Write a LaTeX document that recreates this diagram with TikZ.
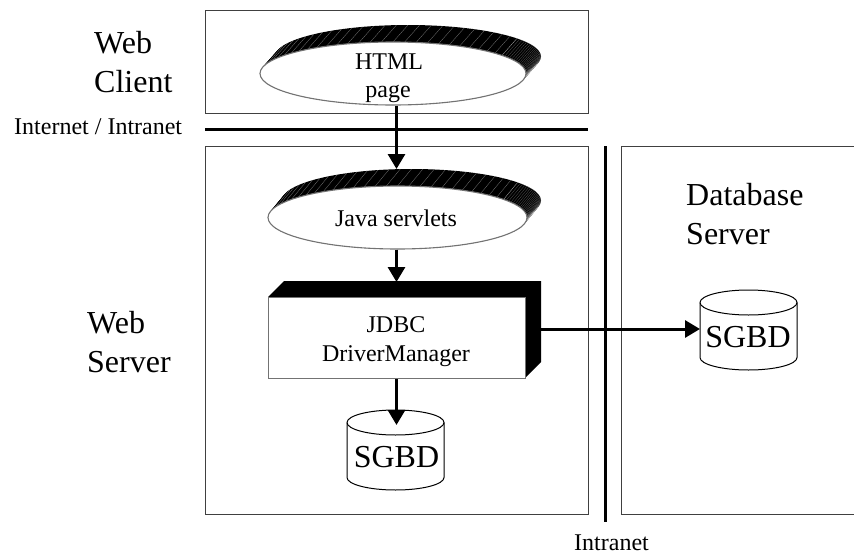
\documentclass[tikz,border=0pt]{standalone}
\usepackage{fontspec}
\setmainfont{Liberation Serif}
\usetikzlibrary{shapes.geometric,arrows.meta}
\tikzset{
  x=1pt,y=-1pt,
  panel/.style={draw=black!75,line width=1.3pt,fill=white,anchor=north west,inner sep=0pt},
  heavy/.style={line width=3pt,draw=black},
  flow/.style={heavy,-{Triangle[length=15pt,width=17pt]}},
  oval/.style={shape=ellipse,draw=black!55,line width=1.1pt,fill=white,inner sep=0pt},
  front/.style={rectangle,draw=black!55,line width=1.1pt,fill=white,inner sep=0pt},
  label24/.style={inner sep=0pt,anchor=base,font=\fontsize{24}{29}\selectfont},
  caption/.style={anchor=base west,inner sep=0pt,font=\fontsize{32}{39}\selectfont},
  small/.style={inner sep=0pt,anchor=base west,font=\fontsize{24}{29}\selectfont},
  dbtext/.style={inner sep=0pt,anchor=base,font=\fontsize{32}{36}\selectfont},
  can/.style={draw=black,line width=1pt,fill=white},
}
\newcommand{\extrude}[6]{%
  \foreach \k in {0,...,24}{
    \fill[black] ({#1+#5*\k/24},{#2+#6*\k/24}) ellipse [x radius=#3pt,y radius=#4pt];
  }
  \foreach \a in {200,205,...,325}{
    \draw[white,opacity=0.5,line width=0.25pt] ({#1+#3*cos(\a)},{#2+#4*sin(\a)}) -- ++(#5,#6);
  }
  \foreach \a in {325,327,...,385}{
    \draw[white,opacity=0.35,line width=0.25pt] ({#1+#3*cos(\a)},{#2+#4*sin(\a)}) -- ++(#5,#6);
  }
}
% centre x, top y, bottom y
\newcommand{\drawcan}[3]{%
  \path[can] ({#1-48.5},{#2+12.5})
    .. controls ({#1-48.5},{#2+5.6}) and ({#1-26.8},#2) .. (#1,#2)
    .. controls ({#1+26.8},#2) and ({#1+48.5},{#2+5.6}) .. ({#1+48.5},{#2+12.5})
    -- ({#1+48.5},{#3-12.5})
    .. controls ({#1+48.5},{#3-5.6}) and ({#1+26.8},#3) .. (#1,#3)
    .. controls ({#1-26.8},#3) and ({#1-48.5},{#3-5.6}) .. ({#1-48.5},{#3-12.5})
    -- cycle;
  \draw[can,fill=none] ({#1-48.5},{#2+12.5})
    .. controls ({#1-48.5},{#2+19.4}) and ({#1-26.8},{#2+25}) .. (#1,{#2+25})
    .. controls ({#1+26.8},{#2+25}) and ({#1+48.5},{#2+19.4}) .. ({#1+48.5},{#2+12.5});
}
\begin{document}
\begin{tikzpicture}
\useasboundingbox (0,0) rectangle (854,554);
\fill[white] (0,0) rectangle (854,554);
\node[panel,minimum width=383pt,minimum height=103pt] (clientbox) at (205,10) {};
\node[panel,minimum width=383pt,minimum height=368pt] (serverbox) at (205,146) {};
\node[panel,minimum width=234pt,minimum height=368pt] (dbbox) at (621,146) {};

\coordinate (netL) at (205,129);
\coordinate (netR) at (588,129);
\draw[heavy] (netL) -- (netR);
\coordinate (vT) at (605,146);
\coordinate (vB) at (605,522);
\draw[heavy] (vT) -- (vB);

\extrude{393}{73.5}{133}{31.5}{15}{-17}
\node[oval,minimum width=266pt,minimum height=63pt] (html) at (393,73.5) {};
\node[label24] (htmltext) at (389,69) {HTML};
\node[label24] (pagetext) at (388,97) {page};
\extrude{397.5}{217.5}{129.5}{31.5}{14}{-17}
\node[oval,minimum width=259pt,minimum height=63pt] (java) at (397.5,217.5) {};
\node[label24] (javatext) at (396,226) {Java servlets};

\fill[black] (268,297) -- (284,281) -- (541,281) -- (541,362) -- (525,378) -- (525,297) -- cycle;
\node[front,minimum width=257pt,minimum height=81pt,anchor=north west] (jdbc) at (268,297) {};
\node[label24] (jdbctext) at (396,332) {JDBC};
\node[label24] (dmtext) at (396,361) {DriverManager};

\drawcan{395.5}{410}{490}
\node[dbtext] (db1) at (396.5,467) {SGBD};
\drawcan{748.5}{290}{370}
\node[dbtext] (db2) at (748,347) {SGBD};

\coordinate (javatop) at (396.5,169);
\coordinate (jdbctop) at (396.5,282);
\coordinate (db1in) at (396.5,425);
\coordinate (db2in) at (700,329);
\draw[flow] (html.south -| javatop) -- (javatop);
\draw[flow] (java.south -| jdbctop) -- (jdbctop);
\draw[flow] (jdbc.south -| db1in) -- (db1in);
\draw[flow] (jdbc.east |- db2in) -- (db2in);

\node[caption] (lclient) at (94,53) {Web};
\node[caption] (lclientb) at (94,92) {Client};
\node[caption] (lserver) at (87,333) {Web};
\node[caption] (lserverb) at (87,372) {Server};
\node[caption] (ldb) at (686,205) {Database};
\node[caption] (ldbb) at (686,244) {Server};
\node[small] (linet) at (14,134) {Internet / Intranet};
\node[small] (lintra) at (574,550) {Intranet};
\end{tikzpicture}
\end{document}
